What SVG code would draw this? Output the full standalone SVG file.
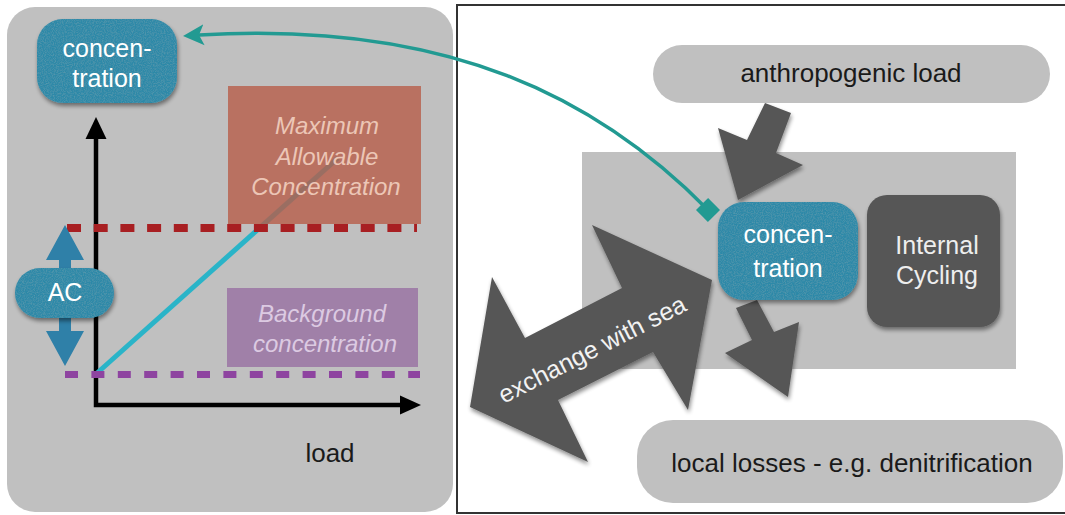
<svg xmlns="http://www.w3.org/2000/svg" width="1065" height="515" viewBox="0 0 1065 515">
<style>
text{font-family:"Liberation Sans",Arial,sans-serif}
.lbl{font-size:26px;fill:#1a1a1a;text-anchor:middle}
.wt{font-size:25px;fill:#ffffff;text-anchor:middle}
.teal{fill:#2d89a8}
.dark{fill:#565656}
.pill{fill:#c0c0c0}
.it{font-size:24px;font-style:italic;text-anchor:middle}
</style>
<defs>
<filter id="sh" x="-20%" y="-20%" width="140%" height="140%">
<feGaussianBlur in="SourceAlpha" stdDeviation="2"/>
<feOffset dx="1" dy="2.5" result="o"/>
<feComponentTransfer><feFuncA type="linear" slope="0.45"/></feComponentTransfer>
<feMerge><feMergeNode/><feMergeNode in="SourceGraphic"/></feMerge>
</filter>
<filter id="tx" x="-20%" y="-20%" width="140%" height="140%">
<feTurbulence type="fractalNoise" baseFrequency="0.9" numOctaves="3" seed="4" result="n"/>
<feColorMatrix in="n" type="matrix" values="0 0 0 0 0.1  0 0 0 0 0.32  0 0 0 0 0.42  1.8 0 0 0 -0.7" result="sp"/>
<feComposite in="sp" in2="SourceAlpha" operator="in" result="sp2"/>
<feGaussianBlur in="SourceAlpha" stdDeviation="2"/>
<feOffset dx="1" dy="3" result="o"/>
<feComponentTransfer in="o" result="s"><feFuncA type="linear" slope="0.45"/></feComponentTransfer>
<feMerge><feMergeNode in="s"/><feMergeNode in="SourceGraphic"/><feMergeNode in="sp2"/></feMerge>
</filter>
<marker id="ah" markerUnits="userSpaceOnUse" markerWidth="24" markerHeight="24" viewBox="0 -12 24 24" refX="5" refY="0" orient="auto">
<path d="M21,0 L0,-10.5 L5,0 L0,10.5 Z" fill="#229a92"/>
</marker>
<marker id="dm" markerUnits="userSpaceOnUse" markerWidth="20" markerHeight="20" viewBox="-10 -10 20 20" refX="0" refY="0" orient="auto">
<rect x="-8.5" y="-8.5" width="17" height="17" fill="#229a92"/>
</marker>
</defs>

<g id="left-panel">
<rect x="7" y="7" width="446" height="505" rx="28" fill="#c0c0c0"/>
</g>
<g id="right-panel">
<rect x="457" y="5" width="620" height="508" fill="#ffffff" stroke="#333333" stroke-width="2"/>
<rect x="582" y="152" width="434" height="217" fill="#c0c0c0"/>
</g>

<g id="chart">
<path d="M96,138 L96,405 L401,405" fill="none" stroke="#000" stroke-width="4.5"/>
<polygon points="96,117 106.5,139 85.5,139" fill="#000"/>
<polygon points="421,405 400,395.5 400,414.5" fill="#000"/>
<line x1="96" y1="374" x2="338" y2="158" stroke="#2ab4c8" stroke-width="5"/>
</g>

<g id="max-allowable">
<rect x="228" y="86" width="193" height="138" fill="#b65c48" fill-opacity="0.8"/>
<text class="it" fill="#ecc6b6" x="327" y="134">Maximum</text>
<text class="it" fill="#ecc6b6" x="327" y="165">Allowable</text>
<text class="it" fill="#ecc6b6" x="326" y="195">Concentration</text>
</g>
<g id="background-concentration">
<rect x="227" y="288" width="191" height="79" fill="#a080a8"/>
<text class="it" fill="#dccae2" x="322" y="322">Background</text>
<text class="it" fill="#dccae2" x="325" y="352">concentration</text>
</g>

<g id="levels">
<line x1="67" y1="228" x2="417" y2="228" stroke="#a81f22" stroke-width="8" stroke-dasharray="14 12.7"/>
<line x1="65" y1="374.5" x2="420" y2="374.5" stroke="#8e44a0" stroke-width="7" stroke-dasharray="13 13.4"/>
</g>

<g id="AC">
<polygon points="65,225 84,260 71,260 71,331 84,331 65,366 46,331 59,331 59,260 46,260" fill="#2f80a8"/>
<rect class="teal" x="15" y="268" width="99" height="50" rx="25" filter="url(#tx)"/>
<text class="wt" x="65" y="301">AC</text>
</g>

<g id="concentration-left">
<rect class="teal" x="37" y="19" width="140" height="84" rx="26" filter="url(#tx)"/>
<text class="wt" x="107" y="57">concen-</text>
<text class="wt" x="107" y="87">tration</text>
</g>

<g id="load-label">
<text class="lbl" x="330" y="462">load</text>
</g>

<g id="anthropogenic-load">
<rect class="pill" x="653" y="45" width="397" height="58" rx="29"/>
<text class="lbl" x="851" y="82">anthropogenic load</text>
</g>

<g id="local-losses">
<rect class="pill" x="637" y="420" width="426" height="83" rx="36"/>
<text class="lbl" x="852" y="472">local losses - e.g. denitrification</text>
</g>

<g id="connectors">
<polygon class="dark" filter="url(#sh)" points="765,103 791,113 776,153 803,165 738,200 718,128 747,140"/>
<polygon class="dark" filter="url(#sh)" points="736,308 757,300 774,332 799,322 788,397 725,353 752,340"/>
</g>

<g id="exchange-with-sea">
<polygon class="dark" filter="url(#sh)" points="470,407 492,277 525,338 622,288 592,225 712,280 688,410 653,352 558,400 588,462"/>
<text transform="translate(596,357) rotate(-27)" x="0" y="0" font-size="25" fill="#f2f2f2" text-anchor="middle">exchange with sea</text>
</g>

<g id="concentration-right">
<rect class="teal" x="718" y="202" width="140" height="98" rx="26" filter="url(#tx)"/>
<text class="wt" x="788" y="243">concen-</text>
<text class="wt" x="788" y="277">tration</text>
</g>

<g id="internal-cycling">
<rect class="dark" x="867" y="195" width="133" height="132" rx="20" filter="url(#sh)"/>
<text class="wt" x="937" y="254" style="fill:#eeeeee">Internal</text>
<text class="wt" x="937" y="284" style="fill:#eeeeee">Cycling</text>
</g>

<g id="feedback-connector">
<path d="M708,210 C600,100 450,20 199,35" fill="none" stroke="#229a92" stroke-width="3.5" marker-start="url(#dm)" marker-end="url(#ah)"/>
</g>
</svg>
